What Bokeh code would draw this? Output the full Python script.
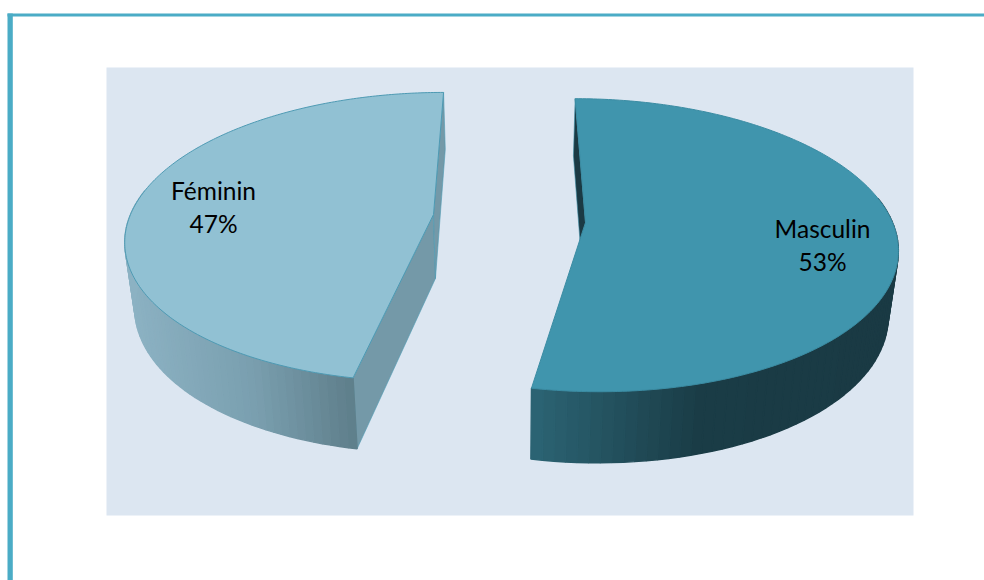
import numpy as np
from bokeh.plotting import figure
from bokeh.models import Range1d
from bokeh.core.properties import value
from bokeh.embed import file_html
from bokeh.resources import INLINE

categories = ["Masculin", "Féminin"]
shares = [53, 47]

# page-pixel coordinate system
p = figure(width=984, height=580, x_range=Range1d(0, 984), y_range=Range1d(580, 0),
           output_backend="svg", toolbar_location=None, min_border=0,
           background_fill_color="white", border_fill_color="white")
p.axis.visible = False
p.grid.visible = False
p.outline_line_color = None

# frame and chart area
BORDER = "#4BACC6"
p.quad(left=[7], right=[984], top=[13], bottom=[16], fill_color=BORDER, line_color=None)
p.quad(left=[7], right=[12.3], top=[13], bottom=[580], fill_color=BORDER, line_color=None)
p.quad(left=[106], right=[913], top=[67], bottom=[515], fill_color="#DCE6F1", line_color=None)

# 3D pie projection
XV, K, SCALE_LOW = 508.0, 0.155, 0.974
H = 64.0
STYLE = {
    "Masculin": dict(off=77.0, ay=222.0, b=143.0, R=307.0, top="#4095AD", edge="#3B8CA3",
                     inner="#1B3A44", wall_stops=[(528, "#2C6575"), (700, "#1A3C46"), (890, "#1A3A44")],
                     vis=(80.0, None)),
    "Féminin": dict(off=-75.0, ay=214.0, b=141.0, R=303.0, top="#91C1D3", edge="#4E9AB3",
                    inner="#7499A8", wall_stops=[(125, "#8CB2C3"), (250, "#7A9FAF"), (356, "#5D7D89")],
                    vis=(None, 280.0)),
}


def top_pt(st, th):
    t = np.radians(th)
    s = 1.0 / (1.0 + K * np.cos(t))
    x = XV + (st["off"] + st["R"] * np.sin(t)) * s
    y = st["ay"] - st["b"] * np.cos(t) * s
    return x, y


def low_pt(st, th, x, y):
    t = np.radians(th)
    return XV + (x - XV) * SCALE_LOW, y + H * (1 - 0.11 * np.cos(t))


def hex2rgb(h):
    return np.array([int(h[i:i + 2], 16) for i in (1, 3, 5)], dtype=float)


def wall_color(st, x):
    xs = [a for a, _ in st["wall_stops"]]
    cs = np.array([hex2rgb(c) for _, c in st["wall_stops"]])
    rgb = [np.interp(x, xs, cs[:, i]) for i in range(3)]
    return "#%02x%02x%02x" % tuple(int(round(v)) for v in rgb)


start = 0.0
for cat, share in zip(categories, shares):
    st = STYLE[cat]
    sweep = share * 3.6
    a0, a1 = start, start + sweep
    start = a1

    ax, ay = XV + st["off"], st["ay"]
    apex_low = (XV + (ax - XV) * SCALE_LOW, ay + H)

    # straight cut walls
    cuts = {"Masculin": [a0], "Féminin": [a0, a1]}[cat]
    for a in cuts:
        x, y = top_pt(st, a)
        lx, ly = low_pt(st, a, x, y)
        p.patch([ax, x, lx, apex_low[0]], [ay, y, ly, apex_low[1]],
                fill_color=st["inner"], line_color=st["edge"], line_width=0.6)

    # outer wall strips
    w0 = st["vis"][0] if st["vis"][0] is not None else a0
    w1 = st["vis"][1] if st["vis"][1] is not None else a1
    angles = np.linspace(w0, w1, 60)
    xs_list, ys_list, cols = [], [], []
    for u, v in zip(angles[:-1], angles[1:]):
        x0, y0 = top_pt(st, u)
        x1, y1 = top_pt(st, v)
        l0 = low_pt(st, u, x0, y0)
        l1 = low_pt(st, v, x1, y1)
        xs_list.append([x0, x1, l1[0], l0[0]])
        ys_list.append([y0, y1, l1[1], l0[1]])
        cols.append(wall_color(st, (x0 + x1) / 2))
    p.patches(xs_list, ys_list, fill_color=cols, line_color=cols, line_width=1.4)

    # top face
    th = np.linspace(a0, a1, 240)
    pts = [top_pt(st, t) for t in th]
    p.patch([ax] + [q[0] for q in pts], [ay] + [q[1] for q in pts],
            fill_color=st["top"], line_color=st["edge"], line_width=1)

# labels
LABEL_POS = {"Masculin": (822, 228, 261), "Féminin": (213, 190, 223)}
for cat, share in zip(categories, shares):
    lx, y1, y2 = LABEL_POS[cat]
    p.text([lx, lx], [y1, y2], text=[cat, f"{share}%"], text_font=value("Lato"),
           text_font_size="24.5px", text_color="#000000", text_align="center",
           text_baseline="middle")

open("out.html", "w").write(file_html(p, INLINE))
